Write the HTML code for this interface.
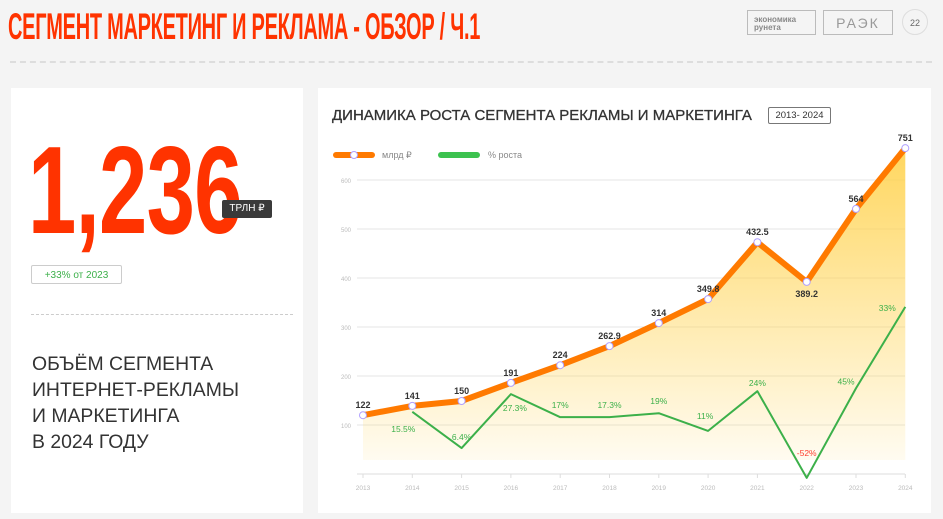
<!DOCTYPE html>
<html><head><meta charset="utf-8">
<style>
body{margin:0;width:943px;height:519px;background:#f4f4f4;font-family:"Liberation Sans",sans-serif;position:relative;overflow:hidden}
.abs{position:absolute}
</style></head><body>
<div class="abs" style="left:8px;top:6px;font-size:37px;font-weight:bold;color:#ff3300;transform:scaleX(0.54);transform-origin:left top;white-space:nowrap;letter-spacing:-0.5px">СЕГМЕНТ МАРКЕТИНГ И РЕКЛАМА - ОБЗОР / Ч.1</div>
<div class="abs" style="left:747px;top:10px;width:69px;height:25px;border:1px solid #bbb;font-size:8px;color:#888;line-height:8px;padding:5px 0 0 6px;box-sizing:border-box;font-weight:bold">экономика<br>рунета</div>
<div class="abs" style="left:823px;top:10px;width:70px;height:25px;border:1px solid #bbb;font-size:14px;color:#999;text-align:center;line-height:25px;box-sizing:border-box;letter-spacing:2px">РАЭК</div>
<div class="abs" style="left:902px;top:9px;width:26px;height:26px;border:1px solid #ddd;border-radius:50%;font-size:9px;color:#666;text-align:center;line-height:26px;box-sizing:border-box">22</div>
<div class="abs" style="left:10px;top:61px;width:922px;border-top:2px dashed #ddd"></div>

<div class="abs" style="left:11px;top:88px;width:292px;height:425px;background:#fff">
  <div class="abs" style="left:17px;top:33px;font-size:124px;font-weight:bold;color:#ff3300;transform:scaleX(0.7);transform-origin:left top;letter-spacing:-1px;line-height:140px">1,236</div>
  <div class="abs" style="left:211px;top:112px;width:50px;height:18px;background:#3a3a3a;color:#fff;font-size:10px;text-align:center;line-height:18px;border-radius:2px">ТРЛН ₽</div>
  <div class="abs" style="left:20px;top:177px;width:91px;height:19px;border:1px solid #ccc;border-radius:2px;color:#3cb04a;font-size:10px;text-align:center;line-height:19px;box-sizing:border-box">+33% от 2023</div>
  <div class="abs" style="left:20px;top:226px;width:262px;border-top:1px dashed #ccc"></div>
  <div class="abs" style="left:21px;top:263px;font-size:19.4px;line-height:26px;color:#333">ОБЪЁМ СЕГМЕНТА<br>ИНТЕРНЕТ-РЕКЛАМЫ<br>И МАРКЕТИНГА<br>В 2024 ГОДУ</div>
</div>

<div class="abs" style="left:318px;top:88px;width:613px;height:425px;background:#fff">
  <div class="abs" style="left:14px;top:19px;font-size:15px;color:#333;white-space:nowrap;-webkit-text-stroke:0.3px #333">ДИНАМИКА РОСТА СЕГМЕНТА РЕКЛАМЫ И МАРКЕТИНГА</div>
  <div class="abs" style="left:450px;top:19px;width:61px;height:15px;border:1px solid #777;border-radius:2px;font-size:9.5px;color:#333;text-align:center;line-height:15px">2013- 2024</div>
</div>

<svg class="abs" style="left:0;top:0" width="943" height="519">
<defs><linearGradient id="fillg" x1="0" y1="0" x2="0" y2="1"><stop offset="0" stop-color="#ffd24d" stop-opacity="0.9"/><stop offset="1" stop-color="#ffd24d" stop-opacity="0.08"/></linearGradient></defs>
<g id="grid"></g><g id="area"></g><g id="lines"></g><g id="labels"></g>
<g>
<line x1="336" y1="155" x2="372" y2="155" stroke="#ff7a00" stroke-width="6" stroke-linecap="round"/>
<circle cx="354" cy="155" r="3.5" fill="#fff" stroke="#b0a0ff" stroke-width="1"/>
<text x="382" y="158" font-size="9" fill="#888">млрд ₽</text>
<line x1="441" y1="155" x2="477" y2="155" stroke="#3cc24f" stroke-width="6" stroke-linecap="round"/>
<text x="488" y="158" font-size="9" fill="#888">% роста</text>
</g>
</svg>
<script>
const years=["2013","2014","2015","2016","2017","2018","2019","2020","2021","2022","2023","2024"];
const volume=[120,139,149,186,222,261,308,357,473,392,541,665];
const volumeLabels=["122","141","150","191","224","262.9","314","349.8","432.5","389.2","564","751"];
const growthPlot=[null,127,53,163,116,116,124,88,169,-8,175,341];
const growthLabels=["","15.5%","6.4%","27.3%","17%","17.3%","19%","11%","24%","-52%","45%","33%"];
const yTicks=[100,200,300,400,500,600];
const NS="http://www.w3.org/2000/svg";
const X=i=>363+i*49.3, Y=v=>425-(v-100)*0.49;
function mk(t,a,p){const e=document.createElementNS(NS,t);for(const k in a)e.setAttribute(k,a[k]);(p||document.getElementById('lines')).appendChild(e);return e;}
const grid=document.getElementById('grid');
yTicks.forEach(v=>{const l=mk('line',{x1:357,x2:905,y1:Y(v),y2:Y(v),stroke:'#e6e6e6','stroke-width':1},grid);


const t=mk('text',{x:341,y:Y(v)+3,'font-size':6,fill:'#bbb'},grid);t.textContent=v;

});
const ax=mk('line',{x1:357,x2:905,y1:Y(0),y2:Y(0),stroke:'#ddd'},grid);


years.forEach((y,i)=>{mk('line',{x1:X(i),x2:X(i),y1:Y(0),y2:Y(0)+4,stroke:'#ddd'},grid);
const t=mk('text',{x:X(i),y:Y(0)+16,'font-size':6.5,fill:'#bbb','text-anchor':'middle'},grid);t.textContent=y;

});
let pts=volume.map((v,i)=>X(i)+','+Y(v));
const area=mk('polygon',{points:X(0)+',460 '+pts.join(' ')+' '+X(11)+',460',fill:'url(#fillg)'},document.getElementById('area'));


const gp=growthPlot.map((v,i)=>v==null?null:X(i)+','+Y(v)).filter(Boolean);
const gl=mk('polyline',{points:gp.join(' '),fill:'none',stroke:'#3cb04a','stroke-width':2,'stroke-linejoin':'round'});


const ol=mk('polyline',{points:pts.join(' '),fill:'none',stroke:'#ff7a00','stroke-width':6,'stroke-linejoin':'round'});


const lab=document.getElementById('labels');
volume.forEach((v,i)=>{const c=mk('circle',{cx:X(i),cy:Y(v),r:3.5,fill:'#fff',stroke:'#b0a0ff','stroke-width':1});


const below=i==9;
const t=mk('text',{x:X(i),y:below?Y(v)+15:Y(v)-7,'font-size':9,'font-weight':'bold',fill:'#333','text-anchor':'middle'},lab);t.textContent=volumeLabels[i];

});
growthPlot.forEach((v,i)=>{if(v==null)return;
const off=[0,20,-8,17,-9,-9,-9,-12,-5,-22,-4,4][i];
const dx=[0,-9,0,4,0,0,0,-3,0,0,-10,-18][i];
const t=mk('text',{x:X(i)+dx,y:Y(v)+off,'font-size':8.5,fill:i==9?'#ff3d2e':'#3cb04a','text-anchor':'middle'},lab);t.textContent=growthLabels[i];

});
</script>
</body></html>
